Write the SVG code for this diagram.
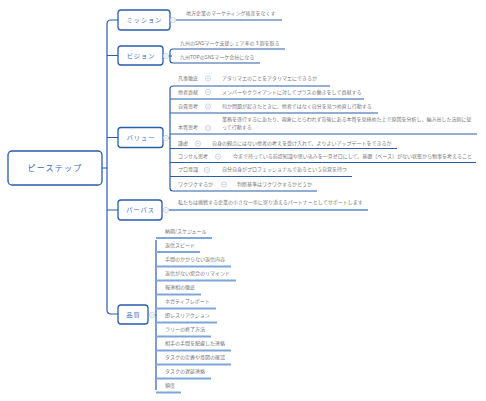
<svg xmlns="http://www.w3.org/2000/svg" width="486" height="401" viewBox="0 0 486 401">
<style>
text{font-family:"Noto Sans CJK JP","Noto Sans",sans-serif}
.box{fill:#fff;stroke:#2a5cab;stroke-width:1.3}
.bt{fill:#3a6cbd;font-size:6.2px;letter-spacing:1px;text-anchor:middle}
.rt{fill:#3a6cbd;font-size:8px;letter-spacing:1.2px;text-anchor:middle}
.t{fill:#777;font-size:5px}
.dk{fill:none;stroke:#2a5cab;stroke-width:1.2}
.lt{fill:none;stroke:#7fa6d9;stroke-width:1.8}
.cc{fill:#fff;stroke:#b4c2dd;stroke-width:0.7}
.cm{stroke:#b4c2dd;stroke-width:0.7}
</style>
<defs>
<g id="col"><circle class="cc" r="2.6"/><line class="cm" x1="-1.3" y1="0" x2="1.3" y2="0"/></g>
</defs>
<rect width="486" height="401" fill="#fff"/>
<g id="connectors">
<path class="dk" d="M102,168 H107 M118,20 H111 Q107,20 107,24 V310 Q107,314 111,314 H118 M107,55.5 H118 M107,137.5 H118 M107,210 H118"/>
<path class="dk" d="M176,20 H282"/>
<path class="dk" d="M169,56 H172 M285,49 H173 Q170,49 170,52 V60 Q170,63 173,63 H260"/>
<path class="dk" d="M169,138 H170 M330,86 H173 Q170,86 170,89 V188 Q170,191 173,191 H317 M170,99 H364 M170,113 H378 M170,134 H477 M170,148.5 H397 M170,162.5 H476 M170,176.5 H352"/>
<path class="lt" d="M169,210 H368"/>
<path class="dk" d="M155,315 H156 M156,240 V390"/>
<path class="lt" d="M156,238 H212 M156,252 H200 M156,266.5 H231 M156,280.5 H236 M156,294.5 H201 M156,308.5 H216 M156,322.5 H217 M156,336.5 H211 M156,350.5 H231 M156,364.5 H231 M156,378.5 H211 M156,392.5 H181"/>
</g>
<g id="root"><rect class="box" x="8" y="151" width="94" height="34" rx="4"/><text class="rt" x="55" y="171">ピーステップ</text></g>
<g id="mission"><rect class="box" x="118" y="10" width="52" height="20" rx="3"/><text class="bt" x="144.5" y="22.2">ミッション</text><use href="#col" x="173" y="20"/>
<text class="t" x="186" y="14.8">地方企業のマーケティング格差をなくす</text></g>
<g id="vision"><rect class="box" x="118" y="46" width="45" height="19" rx="3"/><text class="bt" x="141" y="57.7">ビジョン</text><use href="#col" x="166" y="56"/>
<text class="t" x="180" y="44.8">九州のSNSマーケ支援シェア率の３割を取る</text>
<text class="t" x="180" y="58.8">九州TOPのSNSマーケ会社になる</text></g>
<g id="value"><rect class="box" x="118" y="127.5" width="45" height="20" rx="3"/><text class="bt" x="141" y="139.7">バリュー</text><use href="#col" x="166" y="138"/>
<text class="t" x="178" y="80.2">凡事徹底</text><use href="#col" x="208" y="78.5"/><text class="t" x="222" y="80.2">アタリマエのことをアタリマエにできるか</text>
<text class="t" x="178" y="93.6">他者貢献</text><use href="#col" x="208" y="92"/><text class="t" x="222" y="93.6">メンバーやクライアントに対してプラスの働きをして貢献する</text>
<text class="t" x="178" y="108">自責思考</text><use href="#col" x="208" y="106.5"/><text class="t" x="222" y="108">何か問題が起きたときに、他者ではなく自分を見つめ直し行動する</text>
<text class="t" x="178" y="129">本質思考</text><use href="#col" x="208" y="128"/><text class="t" x="222" y="121">業務を遂行するにあたり、現象にとらわれず背後にある本質を見極めた上で原因を分析し、編み出した法則に従</text><text class="t" x="222" y="129">って行動する</text>
<text class="t" x="178" y="144.6">謙虚</text><use href="#col" x="198" y="143.5"/><text class="t" x="212" y="144.6">自身の観点にはない他者の考えを受け入れて、よりよいアップデートをできるか</text>
<text class="t" x="178" y="157.8">コンサル思考</text><use href="#col" x="218" y="156.5"/><text class="t" x="233" y="157.8">今まで持っている前提知識や思い込みを一旦ゼロにして、基礎（ベース）がない状態から物事を考えること</text>
<text class="t" x="178" y="171">プロ意識</text><use href="#col" x="207" y="170"/><text class="t" x="222" y="171">自分自身がプロフェッショナルであるという自覚を持つ</text>
<text class="t" x="178" y="185.5">ワクワクするか</text><use href="#col" x="224" y="184.5"/><text class="t" x="237" y="185.5">判断基準はワクワクするかどうか</text></g>
<g id="purpose"><rect class="box" x="118" y="200" width="44" height="20" rx="3"/><text class="bt" x="140.5" y="212.2">パーパス</text><use href="#col" x="166" y="210"/>
<text class="t" x="178" y="203.8">私たちは挑戦する企業の小さな一歩に寄り添えるパートナーとしてサポートします</text></g>
<g id="quality"><rect class="box" x="118" y="305" width="30" height="19" rx="3"/><text class="bt" x="133.5" y="316.8">品質</text><use href="#col" x="152" y="315"/>
<text class="t" x="165" y="232.8">納期/スケジュール</text>
<text class="t" x="165" y="246.8">返信スピード</text>
<text class="t" x="165" y="260.8">手間のかからない返信内容</text>
<text class="t" x="165" y="274.8">返信がない場合のリマインド</text>
<text class="t" x="165" y="288.8">報連相の徹底</text>
<text class="t" x="165" y="302.8">ネガティブレポート</text>
<text class="t" x="165" y="316.8">即レスリアクション</text>
<text class="t" x="165" y="330.8">ラリーの終了方法</text>
<text class="t" x="165" y="344.8">相手の手間を配慮した連絡</text>
<text class="t" x="165" y="358.8">タスクの定義や意図の確認</text>
<text class="t" x="165" y="372.8">タスクの遅延連絡</text>
<text class="t" x="165" y="386.8">頻度</text></g>
</svg>
